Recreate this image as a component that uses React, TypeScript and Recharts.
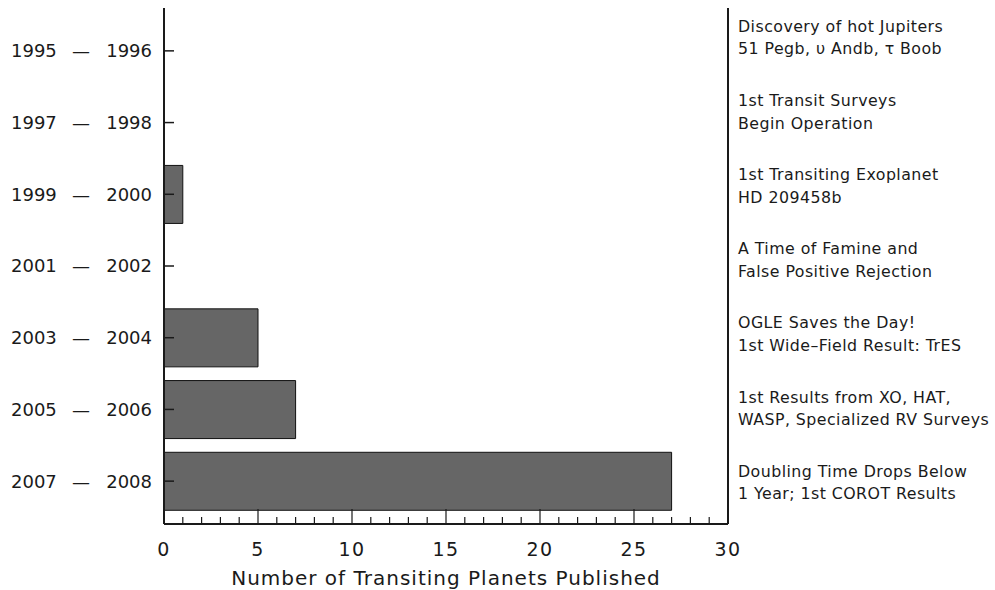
import React from "react";
import { BarChart, Bar, XAxis, YAxis, Label } from "recharts";

const periodStart = ["1995", "1997", "1999", "2001", "2003", "2005", "2007"];
const periodEnd = ["1996", "1998", "2000", "2002", "2004", "2006", "2008"];
const planets = [0, 0, 1, 0, 5, 7, 27];
const notesLine1 = [
  "Discovery of hot Jupiters",
  "1st Transit Surveys",
  "1st Transiting Exoplanet",
  "A Time of Famine and",
  "OGLE Saves the Day!",
  "1st Results from XO, HAT,",
  "Doubling Time Drops Below",
];
const notesLine2 = [
  "51 Pegb, \u03c5 Andb, \u03c4 Boob",
  "Begin Operation",
  "HD 209458b",
  "False Positive Rejection",
  "1st Wide\u2013Field Result: TrES",
  "WASP, Specialized RV Surveys",
  "1 Year; 1st COROT Results",
];
const xTicks = Array.from({ length: 31 }, (_, i) => i);
const noteTicks = [0, 1, 2, 3, 4, 5, 6];

const data = periodStart.map((p, i) => ({ period: `${p} \u2013 ${periodEnd[i]}`, idx: i, count: planets[i] }));

const FONT = "'DejaVu Sans', sans-serif";
const INK = "#1a1a1a";

const BottomTick = (props: any) => {
  const { x, y, payload } = props;
  const major = payload.value % 5 === 0;
  return (
    <g>
      <line x1={x} x2={x} y1={y} y2={y - (major ? 15 : 7)} stroke={INK} strokeWidth={1.2} />
      {major && (
        <text x={x} y={y + 32} textAnchor="middle" fontSize={19} letterSpacing={1.5} fontFamily={FONT} fill={INK}>
          {payload.value}
        </text>
      )}
    </g>
  );
};

const TopTick = (props: any) => {
  const { x, y, payload } = props;
  const major = payload.value % 5 === 0;
  return <line x1={x} x2={x} y1={y} y2={y + (major ? 15 : 7)} stroke={INK} strokeWidth={1.2} />;
};

const LeftTick = (props: any) => {
  const { x, y, index } = props;
  return (
    <g fontSize={18} fontFamily={FONT} fill={INK}>
      <line x1={x} x2={x + 10} y1={y} y2={y} stroke={INK} strokeWidth={1.5} />
      <text x={x - 153} y={y} dy="0.36em" textAnchor="start">{periodStart[index]}</text>
      <text x={x - 83} y={y} dy="0.36em" textAnchor="middle">{"\u2014"}</text>
      <text x={x - 12} y={y} dy="0.36em" textAnchor="end">{periodEnd[index]}</text>
    </g>
  );
};

const RightTick = (props: any) => {
  const { x, y, payload } = props;
  const i = payload.value;
  return (
    <text x={x + 10} y={y} fontSize={15.8} letterSpacing={0.45} fontFamily={FONT} fill={INK}>
      <tspan x={x + 10} dy="-0.4em">{notesLine1[i]}</tspan>
      <tspan x={x + 10} dy="1.44em">{notesLine2[i]}</tspan>
    </text>
  );
};

export default function App() {
  return (
    <div style={{ position: "absolute", left: 0, top: 0, background: "#fff" }}>
      <BarChart
        width={995}
        height={590}
        data={data}
        layout="vertical"
        margin={{ top: 8, right: 0, left: 0, bottom: 0 }}
        barCategoryGap={0}
      >
        <Bar dataKey="count" fill="#666666" stroke="#111" strokeWidth={1} barSize={58} isAnimationActive={false} />
        <XAxis
          type="number"
          domain={[0, 30]}
          ticks={xTicks}
          interval={0}
          height={66}
          tickSize={0}
          tickMargin={0}
          tickLine={false}
          tick={<BottomTick />}
          axisLine={{ stroke: INK, strokeWidth: 2 }}
          allowDataOverflow
        >
          <Label
            content={(p: any) => {
              const vb = p.viewBox || {};
              return (
                <text x={vb.x + vb.width / 2} y={vb.y + 61} textAnchor="middle" fontSize={20} letterSpacing={1} fontFamily={FONT} fill={INK}>
                  Number of Transiting Planets Published
                </text>
              );
            }}
          />
        </XAxis>
        <XAxis
          xAxisId="top"
          orientation="top"
          type="number"
          domain={[0, 30]}
          ticks={xTicks}
          interval={0}
          height={0}
          tickSize={0}
          tickMargin={0}
          tickLine={false}
          tick={<TopTick />}
          axisLine={{ stroke: INK, strokeWidth: 1.5 }}
          allowDataOverflow
        />
        <YAxis
          type="category"
          dataKey="period"
          width={164}
          padding={{ top: 7, bottom: 7 }}
          interval={0}
          tickSize={0}
          tickMargin={0}
          tickLine={false}
          tick={<LeftTick />}
          axisLine={{ stroke: INK, strokeWidth: 2 }}
        />
        <YAxis
          yAxisId="right"
          orientation="right"
          type="number"
          domain={[0, 6]}
          padding={{ top: 30, bottom: 41 }}
          ticks={noteTicks}
          interval={0}
          width={267}
          tickSize={0}
          tickMargin={0}
          tickLine={false}
          tick={<RightTick />}
          axisLine={{ stroke: INK, strokeWidth: 2 }}
          allowDataOverflow
        />
      </BarChart>
    </div>
  );
}
